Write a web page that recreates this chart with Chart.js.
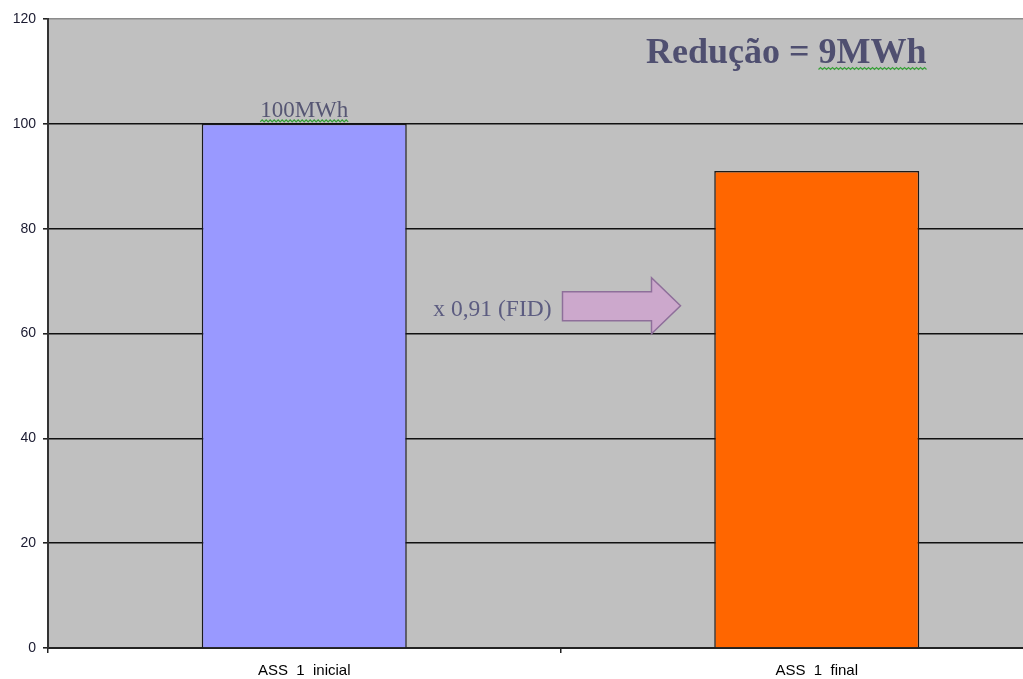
<!DOCTYPE html>
<html>
<head>
<meta charset="utf-8">
<script src="https://cdn.jsdelivr.net/npm/chart.js@4/dist/chart.umd.min.js"></script>
<style>
  html, body { margin: 0; padding: 0; background: #fff; overflow: hidden; }
  #wrap { width: 1080px; height: 679px; }
</style>
</head>
<body>
<div id="wrap"><canvas id="energia" width="1080" height="679"></canvas></div>
<script>
// consumo antes e depois de aplicar o fator FID
var categorias = ["ASS  1  inicial", "ASS  1  final"];
var consumo = [100, 91];
var cores = ["#9999ff", "#ff6600"];
var fator = "x 0,91 (FID)";
var yTicks = [0, 20, 40, 60, 80, 100, 120];

var serif = "'Liberation Serif', 'Times New Roman', serif";
var sans = "'Liberation Sans', Arial, sans-serif";

// fundo cinza da área do gráfico
var fundo = {
    id: "fundo",
    beforeDraw: function(chart) {
        var a = chart.chartArea, ctx = chart.ctx;
        ctx.save();
        ctx.fillStyle = "#c0c0c0";
        ctx.fillRect(a.left, a.top, a.right - a.left, a.bottom - a.top);
        ctx.restore();
    }
};

// sublinhado ondulado verde (corretor ortográfico)
function ondulado(ctx, x0, x1, y) {
    ctx.save();
    ctx.strokeStyle = "#36a036";
    ctx.lineWidth = 1.2;
    ctx.beginPath();
    ctx.moveTo(x0, y);
    var up = true;
    for (var x = x0 + 2; x <= x1; x += 2) {
        ctx.lineTo(x, up ? y - 2 : y);
        up = !up;
    }
    ctx.stroke();
    ctx.restore();
}

// textos e seta
var anotacoes = {
    id: "anotacoes",
    afterDatasetsDraw: function(chart) {
        var ctx = chart.ctx;
        var xs = chart.scales.x, ys = chart.scales.y;
        var x0 = xs.getPixelForValue(0), x1 = xs.getPixelForValue(1);
        var meio = (x0 + x1) / 2;

        ctx.save();
        // rótulo da primeira barra
        ctx.font = "23px " + serif;
        ctx.fillStyle = "#565673";
        ctx.textAlign = "center";
        ctx.textBaseline = "alphabetic";
        var rot = consumo[0] + "MWh";
        var yTop = ys.getPixelForValue(consumo[0]);
        ctx.fillText(rot, x0, yTop - 7);
        var w = ctx.measureText(rot).width;
        ondulado(ctx, x0 - w / 2, x0 + w / 2, yTop - 2);

        // redução total
        ctx.font = "bold 36px " + serif;
        ctx.fillStyle = "#4f4f70";
        ctx.textAlign = "left";
        var yRed = ys.getPixelForValue(111.7);
        var parte1 = "Redução = ";
        var parte2 = (consumo[0] - consumo[1]) + "MWh";
        var xr = 646;
        ctx.fillText(parte1 + parte2, xr, yRed);
        var wa = ctx.measureText(parte1).width;
        var wb = ctx.measureText(parte2).width;
        ondulado(ctx, xr + wa, xr + wa + wb, yRed + 7);

        // fator aplicado
        ctx.font = "23.5px " + serif;
        ctx.fillStyle = "#5c5c80";
        ctx.textAlign = "right";
        var yf = ys.getPixelForValue(64.7);
        ctx.fillText(fator, meio - 9, yf + 7);

        // seta
        var yc = ys.getPixelForValue(65.3);
        ctx.beginPath();
        ctx.moveTo(meio + 2, yc - 14);
        ctx.lineTo(meio + 91, yc - 14);
        ctx.lineTo(meio + 91, yc - 28);
        ctx.lineTo(meio + 120, yc);
        ctx.lineTo(meio + 91, yc + 28);
        ctx.lineTo(meio + 91, yc + 15);
        ctx.lineTo(meio + 2, yc + 15);
        ctx.closePath();
        ctx.fillStyle = "#cca8cc";
        ctx.fill();
        ctx.strokeStyle = "#8e6f9a";
        ctx.lineWidth = 1.5;
        ctx.stroke();
        ctx.restore();
    }
};

new Chart(document.getElementById("energia"), {
    type: "bar",
    data: {
        labels: categorias,
        datasets: [{
            data: consumo,
            backgroundColor: cores,
            borderColor: "#1a1a1a",
            borderWidth: 1.5,
            categoryPercentage: 1,
            barPercentage: 0.4
        }]
    },
    options: {
        responsive: false,
        animation: false,
        layout: { padding: { top: 19, right: 7, left: 0, bottom: 0 } },
        plugins: {
            legend: { display: false },
            tooltip: { enabled: false }
        },
        scales: {
            x: {
                afterFit: function(s) { s.height = 31; },
                grid: {
                    offset: true,
                    drawOnChartArea: false,
                    color: "#222",
                    lineWidth: 1.5,
                    tickLength: 5
                },
                border: { color: "#222", width: 2 },
                ticks: {
                    color: "#000",
                    font: { family: sans, size: 15 },
                    padding: 9
                }
            },
            y: {
                min: 0,
                max: 120,
                afterFit: function(s) { s.width = 48; },
                afterBuildTicks: function(s) {
                    s.ticks = yTicks.map(function(v) { return { value: v }; });
                },
                grid: {
                    color: function(c) { return c.tick && c.tick.value === 120 ? "#8c8c8c" : "#111"; },
                    lineWidth: 1.6,
                    tickLength: 5,
                    tickColor: "#222"
                },
                border: { color: "#333", width: 2 },
                ticks: {
                    color: "#1a1a30",
                    font: { family: sans, size: 14 },
                    padding: 7
                }
            }
        }
    },
    plugins: [fundo, anotacoes]
});
</script>
</body>
</html>
